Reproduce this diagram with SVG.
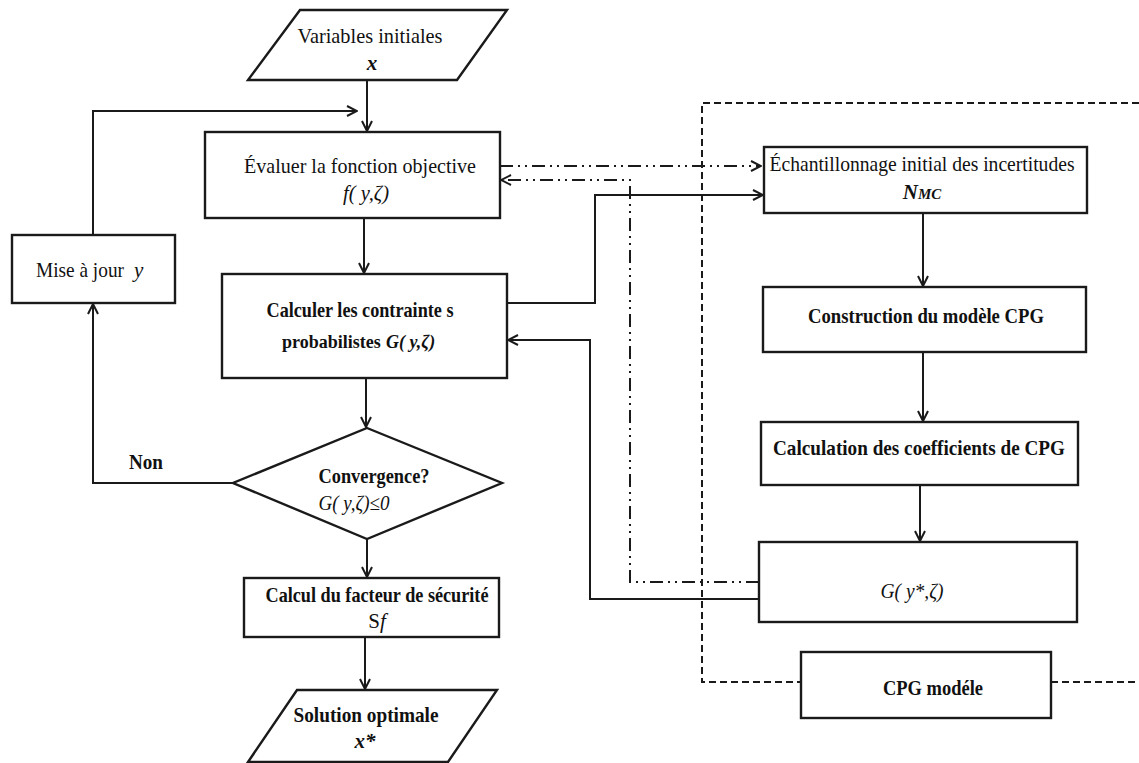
<svg xmlns="http://www.w3.org/2000/svg" width="1139" height="763" viewBox="0 0 1139 763">
<defs>
<style>
.box{fill:#fff;stroke:#1a1a1a;stroke-width:2.4}
.t{font-family:"Liberation Serif","Times New Roman",serif;font-size:21px;fill:#111;text-anchor:middle}
.s{text-anchor:start}
.b{font-weight:bold}
.i{font-style:italic}
.c{fill:none;stroke:#1a1a1a;stroke-width:2}
.dd{fill:none;stroke:#1a1a1a;stroke-width:2;stroke-dasharray:13 5 2 5 2 5}
.ds{fill:none;stroke:#1a1a1a;stroke-width:2;stroke-dasharray:7 4}
</style>
<marker id="a" viewBox="0 0 12 12" refX="11" refY="6" markerWidth="12" markerHeight="12" markerUnits="userSpaceOnUse" orient="auto">
<polyline points="1,1 11,6 1,11" fill="none" stroke="#1a1a1a" stroke-width="2"/>
</marker>
</defs>
<rect width="1139" height="763" fill="#fff"/>

<g id="region">
<path class="ds" d="M1139,103 H702 V682 H801 M1051,682 H1139"/>
</g>

<g id="connectors">
<path class="c" d="M367,80 V131" marker-end="url(#a)"/>
<path class="c" d="M93,235 V111 H357" marker-end="url(#a)"/>
<path class="c" d="M364,218 V273" marker-end="url(#a)"/>
<path class="c" d="M366,378 V427" marker-end="url(#a)"/>
<path class="c" d="M233,483 H93 V304" marker-end="url(#a)"/>
<path class="c" d="M367,539 V577" marker-end="url(#a)"/>
<path class="c" d="M365,637 V689" marker-end="url(#a)"/>
<path class="c" d="M923,213 V286" marker-end="url(#a)"/>
<path class="c" d="M923,352 V421" marker-end="url(#a)"/>
<path class="c" d="M920,485 V541" marker-end="url(#a)"/>
<path class="c" d="M507,303 H595 V195 H763" marker-end="url(#a)"/>
<path class="c" d="M759,599 H590 V340 H508" marker-end="url(#a)"/>
<path class="dd" d="M500,166 H761" marker-end="url(#a)"/>
<path class="dd" d="M759,582 H630 V180 H501" marker-end="url(#a)"/>
</g>

<g id="n-variables">
<polygon class="box" points="300,10 507,10 457,80 248,80"/>
<text class="t" x="370" y="43" textLength="145" lengthAdjust="spacingAndGlyphs">Variables  initiales</text>
<text class="t b i" x="372" y="70">x</text>
</g>

<g id="n-evaluer">
<rect class="box" x="205" y="132" width="295" height="86"/>
<text class="t" x="360" y="173" textLength="232" lengthAdjust="spacingAndGlyphs">Évaluer la fonction objective</text>
<text class="t i" x="366" y="200" textLength="46" lengthAdjust="spacingAndGlyphs">f( y,ζ)</text>
</g>

<g id="n-mise">
<rect class="box" x="12" y="235" width="163" height="68"/>
<text class="t s" x="36" y="277" textLength="88" lengthAdjust="spacingAndGlyphs">Mise à jour</text>
<text class="t s i" x="134" y="277">y</text>
</g>

<g id="n-calculer">
<rect class="box" x="222" y="274" width="285" height="104"/>
<text class="t b" x="360" y="317" textLength="187" lengthAdjust="spacingAndGlyphs">Calculer les contrainte s</text>
<text class="t b s" x="282" y="348" style="font-size:18px">probabilistes</text>
<text class="t b i s" x="386" y="348" style="font-size:18px">G( y,ζ)</text>
</g>

<g id="n-convergence">
<polygon class="box" points="367,428 502,483 367,539 233,483"/>
<text class="t b" x="374" y="483" textLength="111" lengthAdjust="spacingAndGlyphs">Convergence?</text>
<text class="t i" x="354" y="510" textLength="71" lengthAdjust="spacingAndGlyphs">G( y,ζ)≤0</text>
</g>

<g id="l-non">
<text class="t b" x="146" y="469" textLength="34" lengthAdjust="spacingAndGlyphs">Non</text>
</g>

<g id="n-calcul">
<rect class="box" x="244" y="578" width="255" height="59"/>
<text class="t b" x="377" y="602" textLength="223" lengthAdjust="spacingAndGlyphs">Calcul du facteur de sécurité</text>
<text class="t" x="377" y="628">S<tspan class="i">f</tspan></text>
</g>

<g id="n-solution">
<polygon class="box" points="297,690 497,690 448,762 248,762"/>
<text class="t b" x="366" y="722" textLength="145" lengthAdjust="spacingAndGlyphs">Solution  optimale</text>
<text class="t b i" x="365" y="748">x*</text>
</g>

<g id="n-echantillonnage">
<rect class="box" x="764" y="147" width="323" height="66"/>
<text class="t" x="922" y="171" textLength="305" lengthAdjust="spacingAndGlyphs">Échantillonnage initial des incertitudes</text>
<text class="t b i" x="922" y="199">N<tspan style="font-size:15px">MC</tspan></text>
</g>

<g id="n-construction">
<rect class="box" x="763" y="287" width="323" height="65"/>
<text class="t b" x="926" y="323" textLength="236" lengthAdjust="spacingAndGlyphs">Construction  du modèle CPG</text>
</g>

<g id="n-calculation">
<rect class="box" x="761" y="422" width="317" height="63"/>
<text class="t b" x="919" y="455" textLength="292" lengthAdjust="spacingAndGlyphs">Calculation  des  coefficients de CPG</text>
</g>

<g id="n-gstar">
<rect class="box" x="759" y="542" width="318" height="80"/>
<text class="t i" x="912" y="598" textLength="63" lengthAdjust="spacingAndGlyphs">G( y*,ζ)</text>
</g>

<g id="n-cpg">
<rect class="box" x="801" y="652" width="250" height="66"/>
<text class="t b" x="933" y="695" textLength="100" lengthAdjust="spacingAndGlyphs">CPG modéle</text>
</g>
</svg>
